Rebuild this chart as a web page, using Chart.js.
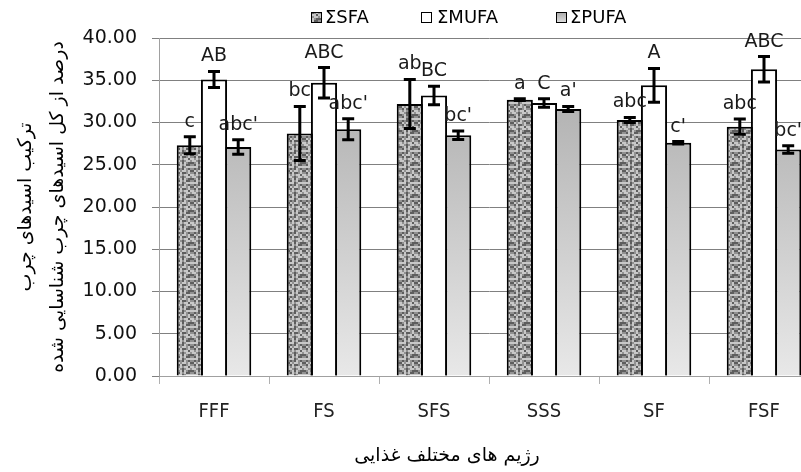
<!DOCTYPE html>
<html>
<head>
<meta charset="utf-8">
<script src="https://cdn.jsdelivr.net/npm/chart.js@4.4.0/dist/chart.umd.min.js"></script>
<style>
html, body { margin: 0; padding: 0; background: #fff; overflow: hidden; }
#wrap { width: 830px; height: 472px; }
</style>
</head>
<body>
<div id="wrap"><canvas id="grafico"></canvas></div>
<script>
// Datos --------------------------------------
const regimenes = ['FFF', 'FS', 'SFS', 'SSS', 'SF', 'FSF'];

const sfa = [27.3, 28.7, 32.2, 32.7, 30.3, 29.5];
const mufa = [35.1, 34.7, 33.2, 32.3, 34.4, 36.3];
const pufa = [27.1, 29.2, 28.5, 31.6, 27.6, 26.8];

const sfaErr = [1.0, 3.2, 2.9, 0.1, 0.3, 0.9];
const mufaErr = [0.95, 1.8, 1.1, 0.5, 2.0, 1.5];
const pufaErr = [0.85, 1.25, 0.5, 0.3, 0.15, 0.45];

const sfaLetras = ['c', 'bc', 'ab', 'a', 'abc', 'abc'];
const mufaLetras = ['AB', 'ABC', 'BC', 'C', 'A', 'ABC'];
const pufaLetras = ["abc'", "abc'", "bc'", "a'", "c'", "bc'"];

const yTicks = [0, 5, 10, 15, 20, 25, 30, 35, 40];

const tituloY = ['ترکیب اسیدهای چرب', 'درصد از کل اسیدهای چرب شناسایی شده'];
const tituloX = 'رژیم های مختلف غذایی';

// Rellenos -----------------------------------
const ctx = document.getElementById('grafico').getContext('2d');

function tramaSFA() {
    const c = document.createElement('canvas');
    c.width = 16; c.height = 16;
    const g = c.getContext('2d');
    const filas = [
        'llmdmllm',
        'dmldlmdd',
        'mdlmlddm',
        'llldmlll',
        'mdmdlmdm',
        'dlmllmld',
        'mdlddmlm',
        'lmlmlldl'
    ];
    const tonos = { l: '#c8c8c8', m: '#919191', d: '#5e5e5e' };
    filas.forEach((fila, y) => {
        for (let x = 0; x < fila.length; x++) {
            g.fillStyle = tonos[fila[x]];
            g.fillRect(x * 2, y * 2, 2, 2);
        }
    });
    return ctx.createPattern(c, 'repeat');
}

const patronSFA = tramaSFA();

function degradadoPUFA(context) {
    const area = context.chart.chartArea;
    if (!area) return '#c8c8c8';
    const gr = context.chart.ctx.createLinearGradient(0, area.top, 0, area.bottom);
    gr.addColorStop(0, '#a6a6a6');
    gr.addColorStop(1, '#e8e8e8');
    return gr;
}

// Plugins ------------------------------------
const barrasError = {
    id: 'barrasError',
    afterDatasetsDraw(chart) {
        const c = chart.ctx;
        const y = chart.scales.y;
        c.save();
        c.strokeStyle = '#000';
        c.lineWidth = 3;
        c.fillStyle = '#1a1a1a';
        c.font = '19px "DejaVu Sans"';
        c.textAlign = 'center';
        c.textBaseline = 'alphabetic';
        chart.data.datasets.forEach((ds, i) => {
            const meta = chart.getDatasetMeta(i);
            meta.data.forEach((bar, j) => {
                const v = ds.data[j];
                const e = ds.errores[j];
                const yTop = y.getPixelForValue(v + e);
                const yBot = y.getPixelForValue(v - e);
                const x = bar.x;
                c.beginPath();
                c.moveTo(x, yTop); c.lineTo(x, yBot);
                c.moveTo(x - 6, yTop); c.lineTo(x + 6, yTop);
                c.moveTo(x - 6, yBot); c.lineTo(x + 6, yBot);
                c.stroke();
                c.fillText(ds.letras[j], x, yTop - 10);
            });
        });
        c.restore();
    }
};

const leyendaYTitulo = {
    id: 'leyendaYTitulo',
    afterDraw(chart) {
        const c = chart.ctx;
        c.save();
        // leyenda
        const posiciones = [[311, 325], [421, 437], [556, 570]];
        c.font = '18px "DejaVu Sans"';
        c.textBaseline = 'middle';
        c.textAlign = 'left';
        chart.data.datasets.forEach((ds, i) => {
            const [bx, tx] = posiciones[i];
            let relleno = ds.backgroundColor;
            if (typeof relleno === 'function') {
                const gr = c.createLinearGradient(0, 12, 0, 23);
                gr.addColorStop(0, '#a8a8a8');
                gr.addColorStop(1, '#e0e0e0');
                relleno = gr;
            }
            c.fillStyle = relleno;
            c.fillRect(bx, 12, 11, 11);
            c.strokeStyle = '#000';
            c.lineWidth = 1;
            c.strokeRect(bx + 0.5, 12.5, 10, 10);
            c.fillStyle = '#000';
            c.fillText(ds.label, tx, 18);
        });
        // titulo eje X
        c.font = '19px "DejaVu Sans"';
        c.textAlign = 'center';
        c.fillText(tituloX, 447, 456);
        c.restore();
    }
};

// Grafico ------------------------------------
new Chart(ctx, {
    type: 'bar',
    data: {
        labels: regimenes,
        datasets: [
            { label: 'ΣSFA', data: sfa, errores: sfaErr, letras: sfaLetras,
              backgroundColor: patronSFA, borderColor: '#000', borderWidth: 2 },
            { label: 'ΣMUFA', data: mufa, errores: mufaErr, letras: mufaLetras,
              backgroundColor: '#ffffff', borderColor: '#000', borderWidth: 2 },
            { label: 'ΣPUFA', data: pufa, errores: pufaErr, letras: pufaLetras,
              backgroundColor: degradadoPUFA, borderColor: '#000', borderWidth: 2 }
        ]
    },
    options: {
        responsive: true,
        maintainAspectRatio: false,
        animation: false,
        barPercentage: 1.08,
        categoryPercentage: 0.66,
        layout: { padding: { top: 38, right: 11, left: 0, bottom: 0 } },
        plugins: {
            legend: { display: false },
            tooltip: { enabled: false }
        },
        scales: {
            x: {
                grid: { drawOnChartArea: false, drawTicks: true, tickLength: 8, color: '#b0b0b0' },
                border: { color: '#a0a0a0' },
                ticks: {
                    color: '#222',
                    font: { family: "'Liberation Sans Narrow', 'DejaVu Sans Condensed', sans-serif", size: 20 },
                    padding: 16
                },
                afterFit(s) { s.height = 96; }
            },
            y: {
                min: 0,
                max: 40,
                afterBuildTicks(s) { s.ticks = yTicks.map(v => ({ value: v })); },
                ticks: {
                    callback: v => v.toFixed(2),
                    color: '#111',
                    font: { family: 'DejaVu Sans', size: 19 },
                    padding: 15
                },
                grid: { color: '#808080', lineWidth: 1, tickLength: 7 },
                border: { color: '#a0a0a0' },
                title: {
                    display: true,
                    text: tituloY,
                    color: '#000',
                    font: { family: 'DejaVu Sans', size: 19, lineHeight: 1.7 },
                    padding: { top: 10, bottom: 0 }
                },
                afterFit(s) { s.width = 159; }
            }
        }
    },
    plugins: [barrasError, leyendaYTitulo]
});
</script>
</body>
</html>
